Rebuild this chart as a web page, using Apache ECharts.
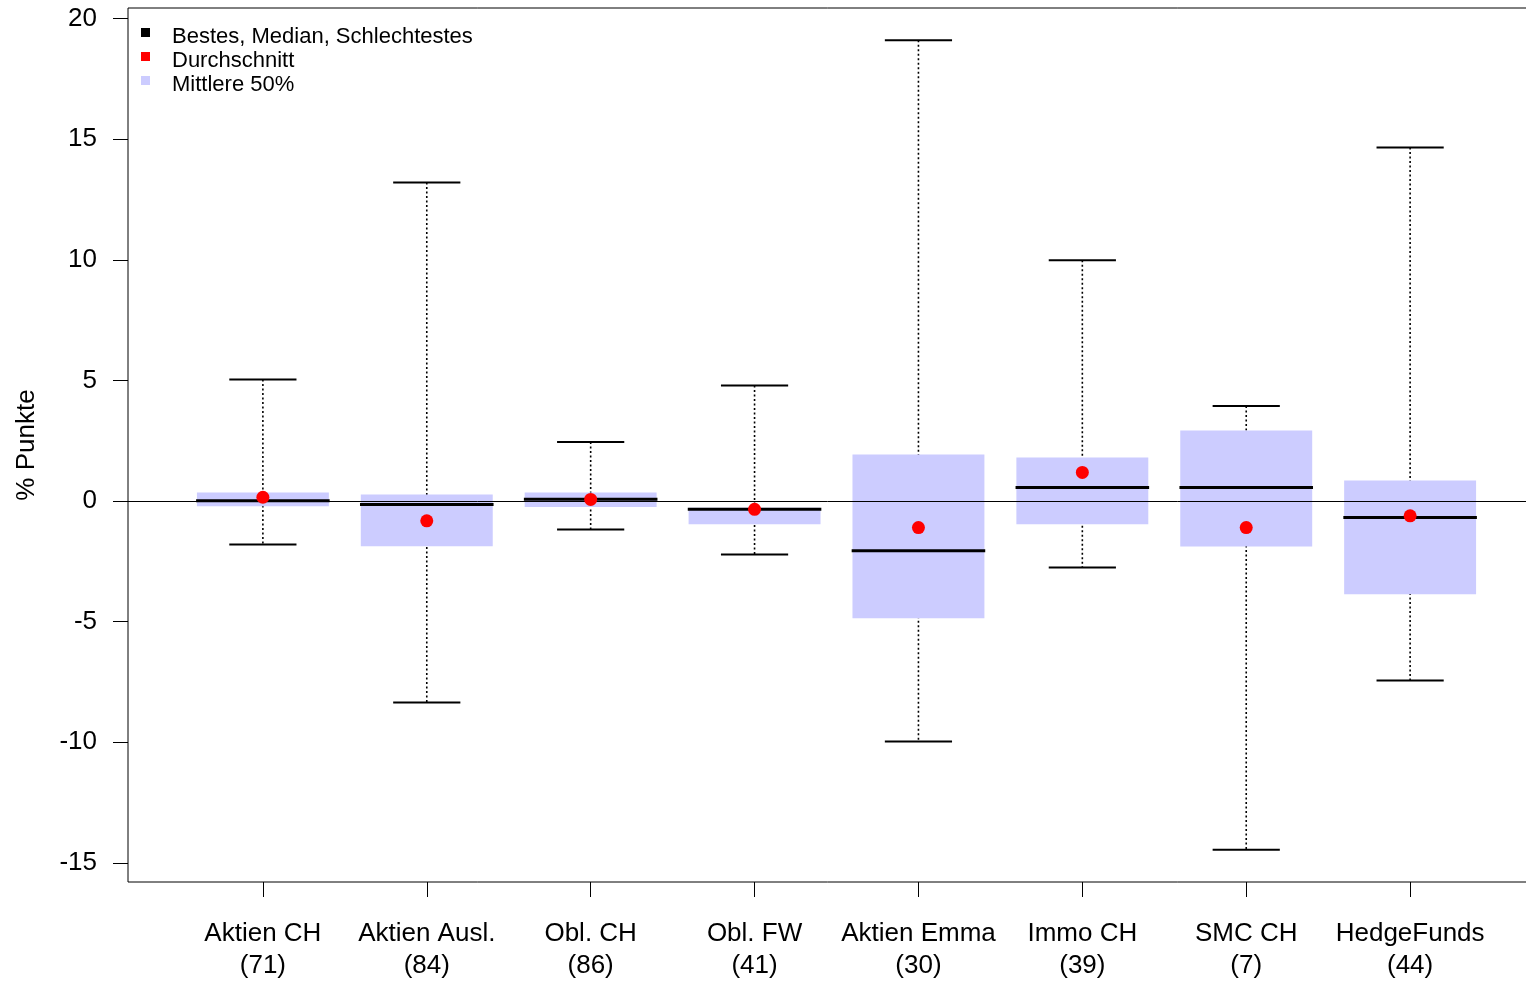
<!DOCTYPE html>
<html>
<head>
<meta charset="utf-8">
<script src="https://cdn.jsdelivr.net/npm/echarts@6/dist/echarts.min.js"></script>
<style>
html,body{margin:0;padding:0;background:#fff;}
#chart{width:1526px;height:982px;}
</style>
</head>
<body>
<div id="chart"></div>
<script>
const categories = ['Aktien CH','Aktien Ausl.','Obl. CH','Obl. FW','Aktien Emma','Immo CH','SMC CH','HedgeFunds'];
const counts = [71, 84, 86, 41, 30, 39, 7, 44];
const best = [5.04, 13.21, 2.45, 4.79, 19.1, 9.98, 3.94, 14.66];
const worst = [-1.80, -8.35, -1.18, -2.21, -9.97, -2.75, -14.45, -7.44];
const q3 = [0.36, 0.27, 0.36, -0.28, 1.93, 1.81, 2.93, 0.85];
const q1 = [-0.21, -1.87, -0.25, -0.96, -4.86, -0.96, -1.88, -3.86];
const median = [0.01, -0.14, 0.08, -0.34, -2.06, 0.56, 0.56, -0.68];
const mean = [0.16, -0.82, 0.07, -0.34, -1.10, 1.19, -1.10, -0.61];
const yTicks = [-15, -10, -5, 0, 5, 10, 15, 20];
const legendLabels = ['Bestes, Median, Schlechtestes', 'Durchschnitt', 'Mittlere 50%'];

const FONT = "'Liberation Sans', Arial, sans-serif";
const BOX = '#CCCCFF';

const hi = Math.max(...best), lo = Math.min(...worst);
const ext = (hi - lo) * 0.04;
const yMin = lo - ext, yMax = hi + ext;

const chart = echarts.init(document.getElementById('chart'), null, {renderer: 'canvas'});

const boxData = categories.map((c, i) => [i, best[i], worst[i], q3[i], q1[i], median[i]]);
const meanData = mean.map((m, i) => [i, m]);

const legendColors = ['#000000', '#FF0000', BOX];
const legendGraphics = [];
legendLabels.forEach((t, k) => {
  legendGraphics.push({type: 'rect', left: 141, top: 28 + k * 24, shape: {width: 9, height: 9}, style: {fill: legendColors[k]}, silent: true});
  legendGraphics.push({type: 'text', x: 172, y: 37 + k * 24, style: {text: t, fill: '#000', font: "22px " + FONT, textVerticalAlign: 'middle', textAlign: 'left'}, silent: true});
});

const option = {
  animation: false,
  backgroundColor: '#fff',
  grid: {left: 128, top: 8, width: 1417, bottom: 100, show: true, borderColor: '#000', borderWidth: 1, backgroundColor: 'transparent', containLabel: false, outerBoundsMode: 'none'},
  xAxis: {
    type: 'value', min: -0.823, max: 7.823,
    axisLine: {show: false, onZero: false},
    splitLine: {show: false},
    axisTick: {show: true, inside: false, length: 15, customValues: categories.map((c, i) => i), lineStyle: {color: '#000', width: 1}},
    axisLabel: {
      customValues: categories.map((c, i) => i),
      formatter: v => categories[Math.round(v)] + '\n(' + counts[Math.round(v)] + ')',
      fontSize: 26, fontFamily: FONT, color: '#000', lineHeight: 32, margin: 36
    }
  },
  yAxis: {
    type: 'value', min: yMin, max: yMax,
    name: '% Punkte', nameLocation: 'middle', nameGap: 88, nameRotate: 90,
    nameTextStyle: {fontSize: 26, fontFamily: FONT, color: '#000'},
    axisLine: {show: false, onZero: false},
    splitLine: {show: false},
    axisTick: {show: true, inside: false, length: 15, customValues: yTicks, lineStyle: {color: '#000', width: 1}},
    axisLabel: {customValues: yTicks, fontSize: 26, fontFamily: FONT, color: '#000', margin: 31, padding: [6, 0, 0, 0], formatter: v => String(v)}
  },
  graphic: legendGraphics,
  series: [
    {
      type: 'custom',
      z: 2,
      data: boxData,
      encode: {x: 0, y: [1, 2, 3, 4, 5]},
      renderItem: function (params, api) {
        const i = api.value(0);
        const x = api.coord([i, 0])[0];
        const yB = api.coord([i, api.value(1)])[1];
        const yW = api.coord([i, api.value(2)])[1];
        const yQ3 = api.coord([i, api.value(3)])[1];
        const yQ1 = api.coord([i, api.value(4)])[1];
        const yM = api.coord([i, api.value(5)])[1];
        const bw = api.size([0.805, 0])[0];
        const cw = api.size([0.41, 0])[0];
        const mw = api.size([0.815, 0])[0];
        return {
          type: 'group',
          children: [
            {type: 'line', shape: {x1: x, y1: yB, x2: x, y2: yW}, style: {stroke: '#000', lineWidth: 1.6, lineDash: [2, 2.5]}},
            {type: 'line', shape: {x1: x - cw / 2, y1: yB, x2: x + cw / 2, y2: yB}, style: {stroke: '#000', lineWidth: 2}},
            {type: 'line', shape: {x1: x - cw / 2, y1: yW, x2: x + cw / 2, y2: yW}, style: {stroke: '#000', lineWidth: 2}},
            {type: 'rect', shape: {x: x - bw / 2, y: yQ3, width: bw, height: yQ1 - yQ3}, style: {fill: BOX, stroke: null}},
            {type: 'line', shape: {x1: x - mw / 2, y1: yM, x2: x + mw / 2, y2: yM}, style: {stroke: '#000', lineWidth: 3}}
          ]
        };
      },
      markLine: {
        silent: true, symbol: 'none', z: 5,
        label: {show: false},
        lineStyle: {color: '#000', width: 1, type: 'solid'},
        data: [{yAxis: 0}]
      }
    },
    {
      type: 'scatter',
      z: 10,
      data: meanData,
      symbol: 'circle',
      symbolSize: 13,
      itemStyle: {color: '#FF0000', opacity: 1}
    }
  ]
};
chart.setOption(option);
</script>
</body>
</html>
